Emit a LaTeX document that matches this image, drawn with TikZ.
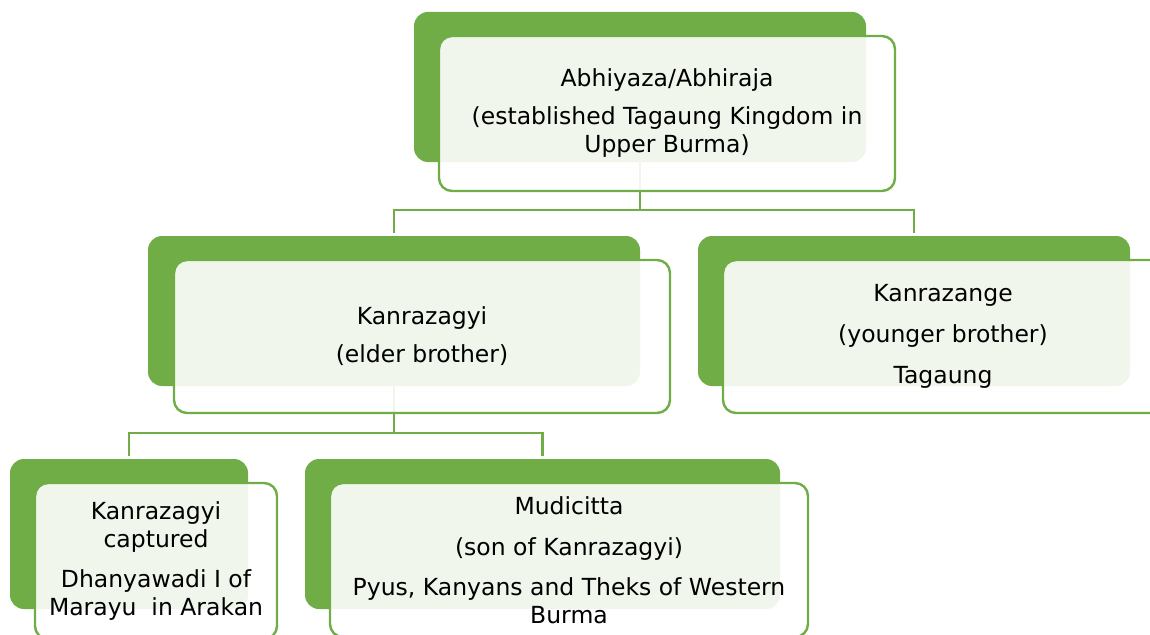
\documentclass[tikz,border=0pt]{standalone}
\usepackage{fontspec}
\setmainfont{DejaVu Sans}
\definecolor{leaf}{RGB}{112,173,71}
\begin{document}
\begin{tikzpicture}[x=1pt,y=-1pt,
  back/.style={fill=leaf, rounded corners=14pt, inner sep=0pt, outer sep=0pt, anchor=north west},
  front/.style={draw=leaf, line width=2.4pt, fill=white, fill opacity=0.9, text opacity=1,
    rounded corners=13pt, inner sep=0pt, outer sep=0pt, anchor=north west, align=center,
    font=\fontsize{23.5}{28}\selectfont, text=black},
  link/.style={draw=leaf, line width=2.4pt}]
\useasboundingbox (0,0) rectangle (1150,634);

% coloured back panels
\node[back, minimum width=452pt, minimum height=150pt] (topB) at (414,12) {};
\node[back, minimum width=492pt, minimum height=150pt] (elderB) at (148,236) {};
\node[back, minimum width=432pt, minimum height=150pt] (youngB) at (698,236) {};
\node[back, minimum width=238pt, minimum height=150pt] (captB) at (10,459) {};
\node[back, minimum width=475pt, minimum height=150pt] (sonB) at (305,459) {};

% bus points of the tree
\coordinate (bus1) at (640,210);
\coordinate (bus2) at (394,433);

% connectors
\draw[link] (topB.south) -- (bus1);
\draw[link, shorten >=3pt] (bus1) -| (elderB.north);
\draw[link, shorten >=3pt] (bus1) -| (youngB.north);
\draw[link] (elderB.south) -- (bus2);
\draw[link, shorten >=3pt] (bus2) -| (captB.north);
\draw[link, shorten >=3pt] (bus2) -| (sonB.north);

% text panels in front
\node[front, minimum width=456pt, minimum height=155pt] (topF) at (439,36)
  {Abhiyaza/Abhiraja\\[10pt](established Tagaung Kingdom in\\Upper Burma)};
\node[front, minimum width=496pt, minimum height=153pt] (elderF) at (174,260)
  {Kanrazagyi\\[10pt](elder brother)};
\node[front, minimum width=440pt, minimum height=153pt] (youngF) at (723,260)
  {Kanrazange\\[13pt](younger brother)\\[13pt]Tagaung};
\node[front, minimum width=242pt, minimum height=156pt] (captF) at (35,483)
  {Kanrazagyi\\captured\\[12pt]Dhanyawadi I of\\Marayu\ \ in Arakan};
\node[front, minimum width=478pt, minimum height=154pt] (sonF) at (330,483)
  {Mudicitta\\[13pt](son of Kanrazagyi)\\[12pt]Pyus, Kanyans and Theks of Western\\Burma};
\end{tikzpicture}
\end{document}
